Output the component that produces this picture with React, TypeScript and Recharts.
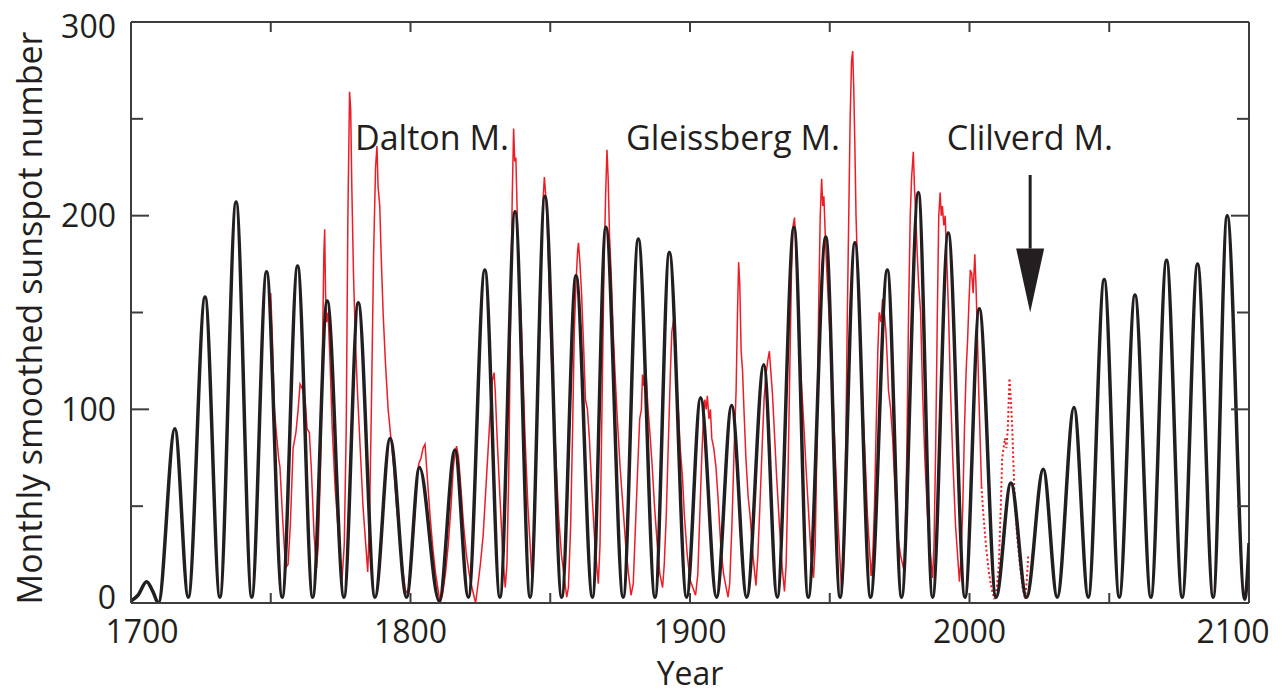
import React from 'react';
import {
  LineChart,
  Line,
  XAxis,
  YAxis,
  ReferenceLine,
  ReferenceDot,
} from 'recharts';

// plot box inside the 1285x695 page
const PLOT = { left: 131, top: 22, right: 1249, bottom: 603 };
const WIDTH = 1285;
const HEIGHT = 695;
const Y_AXIS_W = 60;
const X_AXIS_H = 60;

const FONT = '"Open Sans", sans-serif';
const INK = '#231f20';
const AXIS = '#3d3d3d';
const RED = '#ee1c25';

const xTicks = [1700, 1750, 1800, 1850, 1900, 1950, 2000, 2050, 2100];
const yTicks = [0, 50, 100, 150, 200, 250, 300];

// model curve: cycle minima and maxima [year, sunspot number]
const modelCycles: [number, number][] = [
  [1700, 1], [1702.5, 4], [1705.6, 11], [1707.8, 6], [1709.8, 0],
  [1715.7, 90], [1720.5, 3], [1726.5, 158], [1731.8, 3], [1737.6, 207],
  [1743.2, 3], [1748.5, 171], [1754.1, 3], [1759.6, 174], [1765.0, 3],
  [1770.2, 156], [1776.2, 3], [1781.3, 155], [1787.3, 3], [1792.7, 85],
  [1798.6, 3], [1803.2, 70], [1810.3, 1], [1815.9, 79], [1820.7, 3],
  [1826.6, 172], [1832.0, 3], [1837.4, 202], [1842.8, 3], [1848.1, 210],
  [1854.1, 3], [1859.2, 169], [1865.1, 3], [1869.9, 194], [1876.1, 3],
  [1881.5, 188], [1887.5, 3], [1892.6, 181], [1898.8, 3], [1903.8, 106],
  [1909.5, 3], [1914.9, 102], [1920.3, 3], [1926.4, 123], [1931.2, 3],
  [1937.2, 194], [1942.3, 3], [1948.6, 189], [1953.7, 3], [1959.0, 186],
  [1964.6, 3], [1970.6, 172], [1975.7, 3], [1981.7, 212], [1986.8, 3],
  [1992.4, 191], [1998.4, 3], [2003.5, 152], [2009.5, 3], [2014.8, 62],
  [2020.4, 3], [2026.4, 69], [2031.4, 3], [2037.4, 101], [2042.5, 3],
  [2048.2, 167], [2053.6, 3], [2059.2, 159], [2064.9, 3], [2070.5, 177],
  [2076.1, 3], [2081.6, 175], [2087.2, 3], [2092.2, 200], [2098.5, 2],
  [2100, 31],
];

// observed smoothed sunspot number, solid part
const observed: [number, number][] = [
  [1750.0, 160], [1750.5, 140], [1751.3, 100], [1752.0, 88], [1752.8, 75],
  [1753.3, 70], [1754.2, 45], [1755.3, 18], [1756.2, 20],
  [1757.0, 40], [1758.0, 80], [1759.0, 88], [1759.8, 100], [1760.5, 113],
  [1761.5, 110], [1762.3, 105], [1763.0, 90], [1763.8, 88], [1764.5, 70],
  [1765.5, 35], [1766.4, 18],
  [1767.0, 30], [1767.8, 70], [1768.6, 140], [1769.0, 180], [1769.3, 193],
  [1769.6, 160], [1770.0, 145], [1770.5, 150], [1771.2, 125], [1772.0, 90],
  [1773.0, 60], [1774.0, 40], [1775.0, 20], [1775.5, 12],
  [1776.3, 30], [1777.0, 90], [1777.6, 200], [1778.2, 264], [1778.6, 255],
  [1779.0, 215], [1779.6, 170], [1780.3, 135], [1781.0, 110], [1782.0, 80],
  [1783.0, 50], [1784.0, 30], [1784.7, 16],
  [1785.3, 40], [1786.0, 100], [1786.8, 180], [1787.5, 225], [1788.0, 236],
  [1788.4, 215], [1789.0, 205], [1789.5, 180], [1790.2, 150], [1791.0, 125],
  [1792.0, 100], [1793.0, 85], [1794.0, 70], [1795.0, 50], [1796.0, 35],
  [1797.0, 20], [1798.3, 5],
  [1799.5, 8], [1800.5, 25], [1801.5, 45], [1802.3, 65], [1803.0, 72],
  [1803.8, 75], [1804.5, 80], [1805.2, 82], [1806.0, 65], [1807.0, 45],
  [1808.0, 28], [1809.0, 15], [1810.6, 0],
  [1811.5, 5], [1812.5, 15], [1813.5, 30], [1814.5, 50], [1815.3, 70],
  [1816.0, 78], [1816.5, 81], [1817.2, 75], [1818.0, 60], [1819.0, 40],
  [1820.0, 25], [1821.0, 15], [1822.0, 8], [1823.3, 0],
  [1824.0, 8], [1825.0, 20], [1826.0, 35], [1827.0, 60], [1828.0, 85],
  [1828.8, 105], [1829.3, 115], [1829.9, 119], [1830.3, 110], [1831.0, 85],
  [1832.0, 55], [1833.0, 25], [1833.9, 8],
  [1834.5, 20], [1835.2, 70], [1835.8, 150], [1836.4, 210], [1836.9, 245],
  [1837.3, 228], [1837.7, 230], [1838.2, 200], [1838.8, 170], [1839.5, 150],
  [1840.2, 120], [1841.0, 85], [1842.0, 50], [1843.0, 25], [1843.5, 11],
  [1844.0, 25], [1845.0, 80], [1846.0, 150], [1847.0, 190], [1847.5, 210],
  [1847.9, 220], [1848.3, 212], [1848.8, 200], [1849.5, 170], [1850.3, 130],
  [1851.0, 110], [1852.0, 75], [1853.0, 45], [1854.0, 25], [1855.9, 3],
  [1856.5, 8], [1857.3, 40], [1858.0, 90], [1858.6, 140], [1859.2, 165],
  [1859.8, 182], [1860.1, 186], [1860.6, 176], [1861.2, 160], [1862.0, 130],
  [1862.6, 105], [1863.3, 100], [1864.0, 85], [1865.0, 55], [1866.0, 30],
  [1867.2, 10],
  [1867.8, 30], [1868.5, 100], [1869.2, 170], [1869.8, 210], [1870.3, 234],
  [1870.7, 220], [1871.2, 190], [1871.8, 170], [1872.5, 140], [1873.3, 115],
  [1874.0, 95], [1875.0, 70], [1876.0, 50], [1877.0, 30], [1878.0, 15],
  [1878.9, 4],
  [1879.7, 10], [1880.5, 40], [1881.3, 70], [1882.0, 95], [1882.6, 100],
  [1883.0, 118], [1883.5, 112], [1883.9, 124], [1884.4, 115], [1885.0, 100],
  [1885.8, 85], [1886.5, 70], [1887.3, 50], [1888.3, 30], [1889.2, 15],
  [1890.2, 8],
  [1890.8, 20], [1891.5, 45], [1892.2, 80], [1893.0, 120], [1893.5, 140],
  [1894.1, 146], [1894.6, 130], [1895.2, 115], [1895.8, 100], [1896.5, 80],
  [1897.3, 65], [1898.0, 45], [1899.0, 25], [1900.0, 12], [1902.0, 4],
  [1902.8, 15], [1903.5, 45], [1904.2, 75], [1904.8, 95], [1905.3, 105],
  [1905.8, 100], [1906.2, 107], [1906.8, 95], [1907.3, 100], [1907.8, 85],
  [1908.5, 80], [1909.3, 70], [1910.0, 55], [1911.0, 30], [1912.0, 15],
  [1913.6, 3],
  [1914.2, 10], [1915.0, 40], [1915.8, 80], [1916.5, 110], [1917.0, 150],
  [1917.4, 176], [1917.8, 165], [1918.3, 130], [1918.8, 120], [1919.3, 100],
  [1920.0, 75], [1920.8, 55], [1921.5, 45], [1922.5, 25], [1923.6, 9],
  [1924.3, 25], [1925.0, 50], [1925.8, 80], [1926.5, 105], [1927.2, 118],
  [1927.8, 125], [1928.4, 130], [1928.9, 120], [1929.5, 108], [1930.2, 88],
  [1931.0, 65], [1932.0, 40], [1933.0, 18], [1933.8, 6],
  [1934.4, 20], [1935.0, 60], [1935.7, 120], [1936.3, 170], [1936.9, 195],
  [1937.4, 199], [1937.9, 185], [1938.5, 160], [1939.2, 135], [1940.0, 110],
  [1940.8, 90], [1941.5, 70], [1942.5, 45], [1943.3, 25], [1944.2, 13],
  [1944.8, 30], [1945.4, 80], [1946.0, 150], [1946.6, 200], [1947.1, 219],
  [1947.5, 205], [1947.9, 210], [1948.4, 190], [1949.0, 170], [1949.7, 150],
  [1950.5, 125], [1951.3, 100], [1952.0, 75], [1953.0, 40], [1954.3, 5],
  [1954.8, 15], [1955.3, 40], [1955.8, 90], [1956.3, 150], [1956.8, 200],
  [1957.3, 250], [1957.8, 280], [1958.2, 285], [1958.6, 265], [1959.0, 235],
  [1959.4, 200], [1959.9, 175], [1960.5, 150], [1961.2, 125], [1962.0, 95],
  [1962.8, 70], [1963.5, 45], [1964.8, 14],
  [1965.4, 25], [1966.0, 50], [1966.6, 90], [1967.2, 130], [1967.7, 150],
  [1968.3, 145], [1968.9, 157], [1969.5, 150], [1970.1, 140], [1970.6, 125],
  [1971.0, 110], [1971.8, 100], [1972.5, 85], [1973.3, 60], [1974.3, 35],
  [1975.3, 25], [1976.5, 17],
  [1977.0, 35], [1977.6, 80], [1978.2, 150], [1978.8, 200], [1979.3, 220],
  [1979.9, 233], [1980.3, 215], [1980.8, 200], [1981.3, 180], [1981.8, 165],
  [1982.5, 150], [1983.2, 110], [1984.0, 75], [1985.0, 45], [1986.0, 25],
  [1986.8, 13],
  [1987.3, 30], [1987.9, 80], [1988.5, 150], [1989.0, 200], [1989.5, 212],
  [1989.9, 200], [1990.3, 205], [1990.8, 195], [1991.3, 200], [1991.8, 180],
  [1992.5, 150], [1993.2, 110], [1994.0, 75], [1995.0, 40], [1996.4, 11],
  [1997.0, 25], [1997.6, 50], [1998.2, 90], [1998.8, 120], [1999.3, 135],
  [1999.8, 155], [2000.3, 172], [2000.8, 170], [2001.3, 160], [2001.9, 180],
  [2002.3, 165], [2002.8, 140], [2003.3, 110], [2003.8, 85], [2004.3, 60],
];

// recent cycle, drawn dotted
const observedRecent: [number, number][] = [
  [2004.3, 60], [2005.0, 45], [2006.0, 28], [2007.0, 15], [2008.0, 7],
  [2008.9, 2], [2009.8, 8], [2010.5, 20], [2011.2, 50], [2011.7, 75],
  [2012.2, 80], [2012.7, 85], [2013.2, 80], [2013.7, 90], [2014.3, 116],
  [2014.8, 105], [2015.3, 90], [2016.0, 60], [2017.0, 35], [2018.0, 20],
  [2019.0, 8], [2019.9, 2], [2020.5, 12], [2021.0, 24],
];

const minima = [
  { label: 'Dalton M.', year: 1807.7, value: 240 },
  { label: 'Gleissberg M.', year: 1915.4, value: 240 },
  { label: 'Clilverd M.', year: 2021.6, value: 240 },
];

// arrow under "Clilverd M."
const arrow = { year: 2021.7, top: 221, head: 183, tip: 150 };

const toRows = (pts: [number, number][]) => pts.map(([year, value]) => ({ year, value }));

const XTick = (props: any) => {
  const { x, y, payload } = props;
  const v = payload.value;
  const shift = v === 1700 ? 11 : v === 2100 ? -16 : 0;
  return (
    <g>
      <line x1={x} x2={x} y1={y} y2={y - 10} stroke={AXIS} strokeWidth={2} />
      <line x1={x} x2={x} y1={PLOT.top} y2={PLOT.top + 10} stroke={AXIS} strokeWidth={2} />
      {v % 100 === 0 && (
        <text x={x + shift} y={y + 29} dy="0.35em" textAnchor="middle"
          fontFamily={FONT} fontSize={32} fill={INK}>
          {v}
        </text>
      )}
    </g>
  );
};

const YTick = (props: any) => {
  const { x, y, payload } = props;
  const v = payload.value;
  const major = v % 100 === 0;
  const len = major ? 18 : 12;
  const shift = v === 300 ? 5 : v === 0 ? -5 : 0;
  return (
    <g>
      <line x1={x} x2={x + len} y1={y} y2={y} stroke={AXIS} strokeWidth={2} />
      <line x1={PLOT.right} x2={PLOT.right - len} y1={y} y2={y} stroke={AXIS} strokeWidth={2} />
      {major && (
        <text x={x - 15} y={y + shift} dy="0.35em" textAnchor="end"
          fontFamily={FONT} fontSize={32} fill={INK}>
          {v}
        </text>
      )}
    </g>
  );
};

export default function App() {
  return (
    <div style={{ position: 'absolute', left: 0, top: 0, width: WIDTH, height: HEIGHT, background: '#fff' }}>
      <LineChart
        width={WIDTH}
        height={HEIGHT}
        margin={{
          top: PLOT.top,
          right: WIDTH - PLOT.right,
          bottom: HEIGHT - PLOT.bottom - X_AXIS_H,
          left: PLOT.left - Y_AXIS_W,
        }}
      >
        <XAxis
          dataKey="year"
          type="number"
          domain={[1700, 2100]}
          ticks={xTicks}
          allowDataOverflow
          height={X_AXIS_H}
          tickSize={0}
          tickMargin={0}
          tickLine={false}
          tick={<XTick />}
          interval={0}
          axisLine={{ stroke: AXIS, strokeWidth: 2 }}
        />
        <YAxis
          type="number"
          domain={[0, 300]}
          ticks={yTicks}
          allowDataOverflow
          width={Y_AXIS_W}
          tickSize={0}
          tickMargin={0}
          tickLine={false}
          tick={<YTick />}
          interval={0}
          axisLine={{ stroke: AXIS, strokeWidth: 2 }}
        />
        <ReferenceLine y={300} stroke={AXIS} strokeWidth={2} />
        <ReferenceLine x={2100} stroke={AXIS} strokeWidth={2} />

        <Line
          data={toRows(observed)}
          dataKey="value"
          type="linear"
          stroke={RED}
          strokeWidth={1.5}
          dot={false}
          isAnimationActive={false}
        />
        <Line
          data={toRows(observedRecent)}
          dataKey="value"
          type="linear"
          stroke={RED}
          strokeWidth={2}
          strokeDasharray="2 2.5"
          dot={false}
          isAnimationActive={false}
        />
        <Line
          data={toRows(modelCycles)}
          dataKey="value"
          type="monotone"
          stroke={INK}
          strokeWidth={3.5}
          dot={false}
          isAnimationActive={false}
        />

        <ReferenceLine
          segment={[{ x: arrow.year, y: arrow.top }, { x: arrow.year, y: arrow.head }]}
          stroke={INK}
          strokeWidth={3}
        />
        <ReferenceDot
          x={arrow.year}
          y={arrow.tip}
          r={0}
          shape={(p: any) => (
            <polygon
              points={`${p.cx - 14},${p.cy - 64} ${p.cx + 14},${p.cy - 64} ${p.cx},${p.cy}`}
              fill={INK}
            />
          )}
        />
        {minima.map((m) => (
          <ReferenceDot
            key={m.label}
            x={m.year}
            y={m.value}
            r={0}
            shape={(p: any) => (
              <text x={p.cx} y={p.cy} dy="0.35em" textAnchor="middle"
                fontFamily={FONT} fontSize={34} fill={INK}>
                {m.label}
              </text>
            )}
          />
        ))}
      </LineChart>
      <svg width={WIDTH} height={HEIGHT} style={{ position: 'absolute', left: 0, top: 0, pointerEvents: 'none' }}>
        <text x={30} y={318} dy="0.35em" textAnchor="middle" transform="rotate(-90 30 318)"
          fontFamily={FONT} fontSize={34} fill={INK}>
          Monthly smoothed sunspot number
        </text>
        <text x={690} y={674} dy="0.35em" textAnchor="middle" fontFamily={FONT} fontSize={32} fill={INK}>
          Year
        </text>
      </svg>
    </div>
  );
}
